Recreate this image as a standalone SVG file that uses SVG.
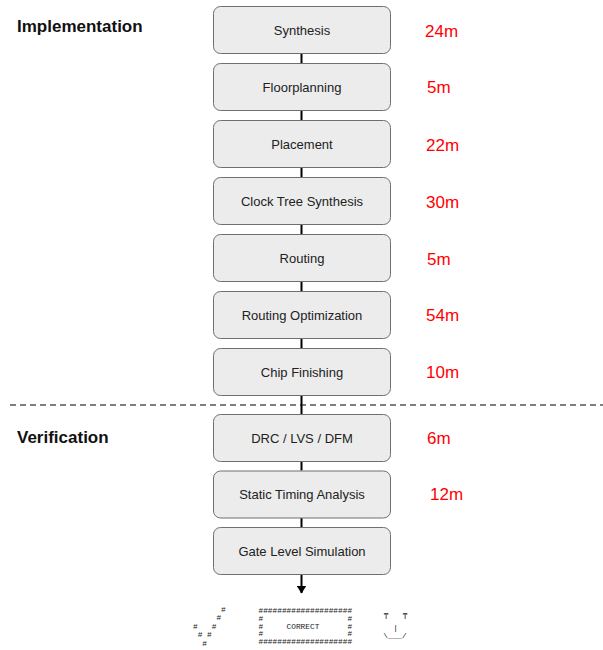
<svg xmlns="http://www.w3.org/2000/svg" width="603" height="650" viewBox="0 0 603 650">
  <style>
    .box { fill: #ececec; stroke: #6f6f6f; stroke-width: 1; }
    .lbl { font-family: "Liberation Sans", Arial, sans-serif; font-size: 13px; fill: #222; text-anchor: middle; }
    .time { font-family: "Liberation Sans", Arial, sans-serif; font-size: 17px; fill: #ff0000; }
    .sec { font-family: "Liberation Sans", Arial, sans-serif; font-size: 17px; font-weight: bold; fill: #111; }
    .wire { stroke: #000; stroke-width: 2; fill: none; }
    .art { font-family: "Liberation Mono", "Courier New", monospace; font-size: 7.8px; fill: #222; white-space: pre; }
  </style>
  <defs>
    <marker id="arrow" viewBox="0 0 8 10" refX="7.5" refY="5" markerWidth="8" markerHeight="10" markerUnits="userSpaceOnUse" orient="auto">
      <path d="M0,0 L8,5 L0,10 Z" fill="#000"/>
    </marker>
  </defs>

  <rect width="603" height="650" fill="#fff"/>

  <!-- section titles and divider -->
  <text class="sec" x="17" y="32">Implementation</text>
  <text class="sec" x="17" y="443">Verification</text>
  <line x1="10" y1="405" x2="603" y2="405" stroke="#000" stroke-width="1.2" stroke-dasharray="6,4"/>

  <!-- flow connectors -->
  <g id="connectors">
    <line class="wire" x1="301.5" y1="53" x2="301.5" y2="63"/>
    <line class="wire" x1="301.5" y1="110" x2="301.5" y2="120"/>
    <line class="wire" x1="301.5" y1="167" x2="301.5" y2="177"/>
    <line class="wire" x1="301.5" y1="224" x2="301.5" y2="234"/>
    <line class="wire" x1="301.5" y1="281" x2="301.5" y2="291"/>
    <line class="wire" x1="301.5" y1="338" x2="301.5" y2="348"/>
    <line class="wire" x1="301.5" y1="395" x2="301.5" y2="414"/>
    <line class="wire" x1="301.5" y1="461" x2="301.5" y2="470.5"/>
    <line class="wire" x1="301.5" y1="517.5" x2="301.5" y2="527"/>
    <line class="wire" x1="301.5" y1="574" x2="301.5" y2="593" marker-end="url(#arrow)"/>
  </g>

  <!-- flow steps -->
  <g id="synthesis">
    <rect class="box" x="213.5" y="6.5" width="177" height="47" rx="7"/>
    <text class="lbl" x="302" y="34.5">Synthesis</text>
    <text class="time" x="425" y="37">24m</text>
  </g>
  <g id="floorplanning">
    <rect class="box" x="213.5" y="63.5" width="177" height="47" rx="7"/>
    <text class="lbl" x="302" y="91.5">Floorplanning</text>
    <text class="time" x="427" y="93">5m</text>
  </g>
  <g id="placement">
    <rect class="box" x="213.5" y="120.5" width="177" height="47" rx="7"/>
    <text class="lbl" x="302" y="148.5">Placement</text>
    <text class="time" x="426" y="150.5">22m</text>
  </g>
  <g id="cts">
    <rect class="box" x="213.5" y="177.5" width="177" height="47" rx="7"/>
    <text class="lbl" x="302" y="205.5">Clock Tree Synthesis</text>
    <text class="time" x="426" y="208">30m</text>
  </g>
  <g id="routing">
    <rect class="box" x="213.5" y="234.5" width="177" height="47" rx="7"/>
    <text class="lbl" x="302" y="262.5">Routing</text>
    <text class="time" x="427" y="264.5">5m</text>
  </g>
  <g id="routing-opt">
    <rect class="box" x="213.5" y="291.5" width="177" height="47" rx="7"/>
    <text class="lbl" x="302" y="319.5">Routing Optimization</text>
    <text class="time" x="426" y="320.5">54m</text>
  </g>
  <g id="chip-finishing">
    <rect class="box" x="213.5" y="348.5" width="177" height="47" rx="7"/>
    <text class="lbl" x="302" y="376.5">Chip Finishing</text>
    <text class="time" x="426" y="378">10m</text>
  </g>
  <g id="drc">
    <rect class="box" x="213.5" y="414.5" width="177" height="47" rx="7"/>
    <text class="lbl" x="302" y="442.5">DRC / LVS / DFM</text>
    <text class="time" x="427" y="443.5">6m</text>
  </g>
  <g id="sta">
    <rect class="box" x="213.5" y="471" width="177" height="47" rx="7"/>
    <text class="lbl" x="302" y="499">Static Timing Analysis</text>
    <text class="time" x="430" y="500">12m</text>
  </g>
  <g id="gls">
    <rect class="box" x="213.5" y="527.5" width="177" height="47" rx="7"/>
    <text class="lbl" x="302" y="555.5">Gate Level Simulation</text>
  </g>

  <!-- result banner -->
  <g id="result">
    <text class="art" x="193" y="612">      #</text>
    <text class="art" x="193" y="620">     #</text>
    <text class="art" x="193" y="628.5">#   #</text>
    <text class="art" x="193" y="637"> # #</text>
    <text class="art" x="193" y="646">  #</text>

    <text class="art" x="258.5" y="613">####################</text>
    <text class="art" x="258.5" y="620.5">#                  #</text>
    <text class="art" x="258.5" y="628.5">#     CORRECT      #</text>
    <text class="art" x="258.5" y="636">#                  #</text>
    <text class="art" x="258.5" y="643.5">####################</text>

    <text class="art" x="386" y="619" text-anchor="middle">₸</text>
    <text class="art" x="405" y="619" text-anchor="middle">₸</text>
    <text class="art" x="395.5" y="630" text-anchor="middle">|</text>
    <text class="art" x="395" y="638" text-anchor="middle">\___/</text>
  </g>
</svg>
